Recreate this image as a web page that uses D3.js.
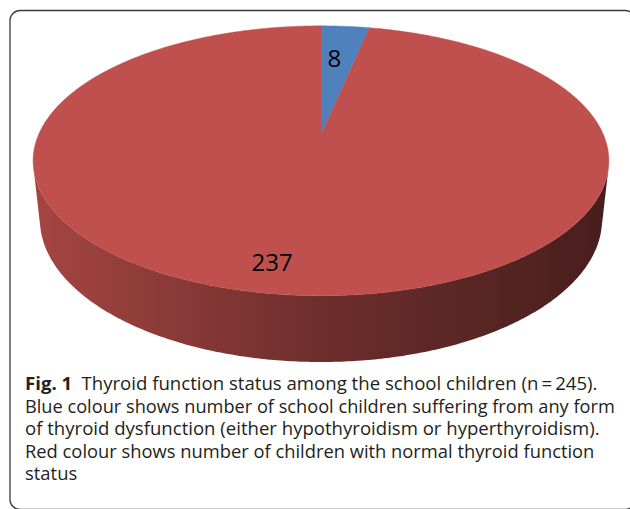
<!DOCTYPE html>
<html><head><meta charset="utf-8">
<script src="https://cdn.jsdelivr.net/npm/d3@7"></script>
<style>body{margin:0;background:#fff} svg{display:block}</style>
</head><body>
<svg id="c" width="630" height="509"></svg>
<script>
// ---- data ----
const categories = ["Thyroid dysfunction", "Normal thyroid function"];
const values = [8, 237];
const sliceColors = ["#4F81BD", "#C0504D"];
const captionBold = "Fig. 1";
const captionLines = [
  "Thyroid function status among the school children (n\u2009=\u2009245).",
  "Blue colour shows number of school children suffering from any form",
  "of thyroid dysfunction (either hypothyroidism or hyperthyroidism).",
  "Red colour shows number of children with normal thyroid function",
  "status"
];

// ---- layout ----
const svg = d3.select("#c");
const cx = 321, cy = 135, F = 1314, D = 4.65, sa = 0.46, ca = Math.sqrt(1 - sa * sa), H = 0.235;
function proj(X, Y, Z) {
  const d = D - Y * sa - Z * ca;
  return [cx + F * X / d, cy - F * (Y * ca - Z * sa) / d];
}
const rScale = d3.scaleLinear().domain([0, 1]).range([0, 1]);
function pt(a, r, Y) { const rr = rScale(r); return proj(rr * Math.sin(a), Y, -rr * Math.cos(a)); }
function samples(a0, a1) {
  const n = Math.max(2, Math.ceil(Math.abs(a1 - a0) / 0.01));
  return d3.range(n + 1).map(i => a0 + (a1 - a0) * i / n);
}
const line = d3.line();

const pie = d3.pie().sort(null).startAngle(0).endAngle(2 * Math.PI);
const arcs = pie(values);

// frame
svg.append("rect").attr("x", 10).attr("y", 10.5).attr("width", 625).attr("height", 499)
  .attr("rx", 10).attr("fill", "none").attr("stroke", "#3a3a3a").attr("stroke-width", 1.3);

const defs = svg.append("defs");
const psi = Math.acos(1 / (D * ca));
const sLo = Math.PI - psi, sHi = Math.PI + psi;

// sides
arcs.forEach((a, i) => {
  const lo = Math.max(a.startAngle, sLo), hi = Math.min(a.endAngle, sHi);
  if (hi <= lo) return;
  const base = d3.rgb(sliceColors[i]);
  const gid = "side" + i;
  const g = defs.append("linearGradient").attr("id", gid).attr("gradientUnits", "userSpaceOnUse")
    .attr("x1", pt(sHi, 1, 0)[0]).attr("x2", pt(sLo, 1, 0)[0]).attr("y1", 0).attr("y2", 0);
  [[0, 0.86], [0.5, 0.57], [1, 0.37]].forEach(([o, f]) => {
    g.append("stop").attr("offset", o).attr("stop-color", d3.rgb(base.r * f, base.g * f, base.b * f));
  });
  const top = samples(lo, hi).map(t => pt(t, 1, 0));
  const bot = samples(hi, lo).map(t => pt(t, 1, -H));
  svg.append("path").attr("d", line(top.concat(bot)) + "Z").attr("fill", `url(#${gid})`);
});

// top faces
arcs.forEach((a, i) => {
  const pts = [pt(0, 0, 0)].concat(samples(a.startAngle, a.endAngle).map(t => pt(t, 1, 0)));
  svg.append("path").attr("d", line(pts) + "Z").attr("fill", sliceColors[i])
    .attr("stroke", sliceColors[i]).attr("stroke-width", 0.5);
});

// labels
const labelR = [0.68, 0.84], labelNudge = [[-4, 0], [-20, -3]];
arcs.forEach((a, i) => {
  const m = (a.startAngle + a.endAngle) / 2;
  const p = pt(m, labelR[i], 0);
  svg.append("text").attr("x", p[0] + labelNudge[i][0]).attr("y", p[1] + labelNudge[i][1])
    .attr("text-anchor", "middle").attr("dominant-baseline", "central")
    .attr("font-family", "'Open Sans', sans-serif").attr("font-size", 24).attr("fill", "#000")
    .text(a.data);
});

// caption
const capX = 25, capBase = [390, 412.5, 435, 457.5, 480], capW = [573, 590, 575, 570, null];
const scales = [];
captionLines.forEach((s, i) => {
  const t = svg.append("text").attr("x", 0).attr("y", 0)
    .attr("font-family", "'Open Sans', sans-serif").attr("font-size", 18).attr("fill", "#231F20");
  if (i === 0) {
    t.append("tspan").attr("font-weight", "bold").text(captionBold);
    t.append("tspan").text("\u2002" + s);
  } else t.text(s);
  const w = t.node().getComputedTextLength();
  const sx = capW[i] ? capW[i] / w : d3.mean(scales);
  scales.push(sx);
  t.attr("transform", `translate(${capX},${capBase[i]}) scale(${sx},1)`);
});
</script>
</body></html>
